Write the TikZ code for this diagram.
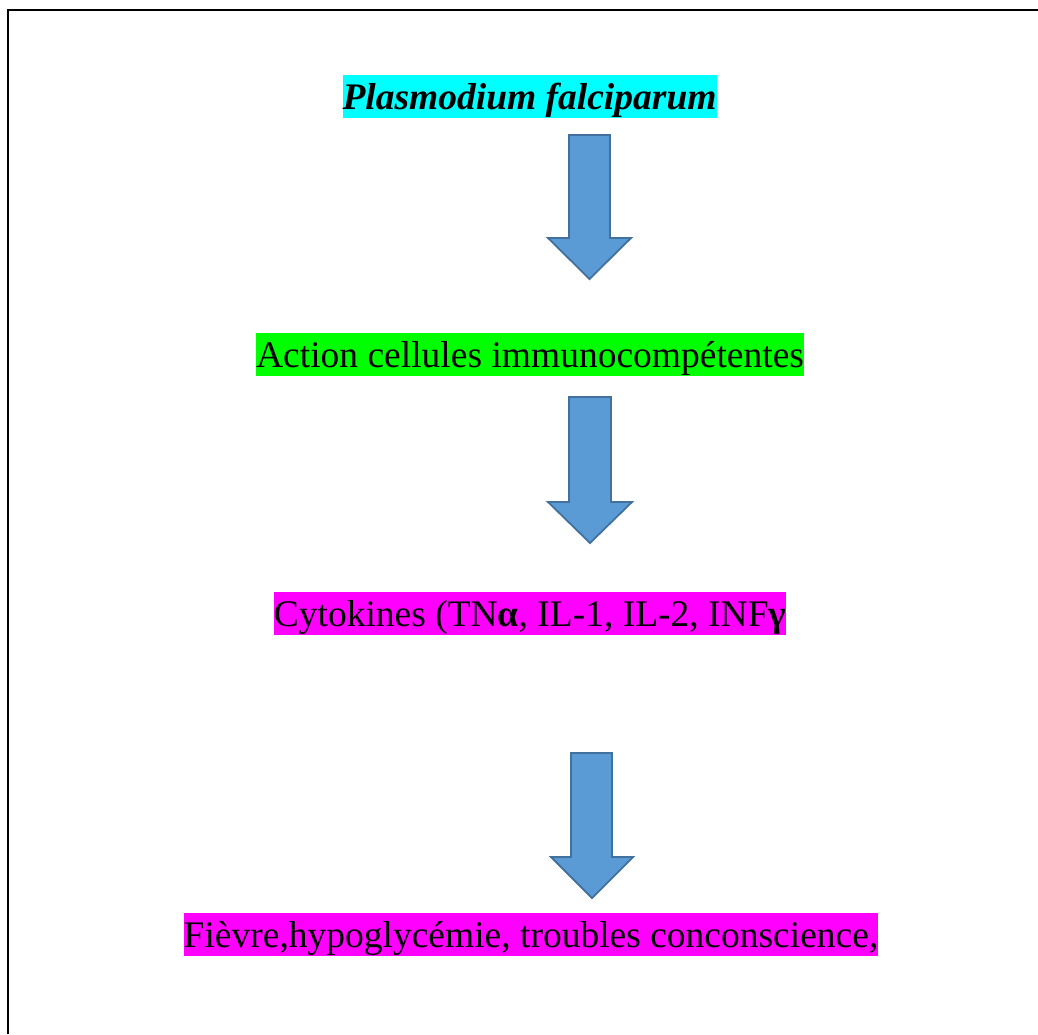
\documentclass[tikz,border=0pt]{standalone}
\usepackage{fontspec}
\setmainfont{Liberation Serif}
\definecolor{hlcyan}{RGB}{0,255,255}
\definecolor{hlgreen}{RGB}{0,255,0}
\definecolor{hlmag}{RGB}{255,0,255}
\definecolor{arrfill}{RGB}{91,155,213}
\definecolor{arrline}{RGB}{65,113,156}
\tikzset{
  hl/.style={inner xsep=0pt, inner ysep=0pt, minimum height=43pt, text height=29.2pt, text depth=3pt, font=\fontsize{37.5}{40}\selectfont},
  blockarrow/.style={fill=arrfill, draw=arrline, line width=1.8pt, line join=miter},
  frameline/.style={draw=black, line width=2pt}
}
\begin{document}
\begin{tikzpicture}[x=1pt,y=-1pt]
\useasboundingbox (0,0) rectangle (1038,1034);
\draw[frameline] (8,1034) -- (8,10) -- (1038,10);

\node[hl, fill=hlcyan] (plasmo) at (529.5,96.5) {\textbf{\textit{Plasmodium falciparum}}};
\node[hl, fill=hlgreen] (action) at (530,354) {Action cellules immunocompétentes};
\node[hl, fill=hlmag] (cyto) at (530,613) {Cytokines (TN\textbf{α}, IL-1, IL-2, INF\textbf{γ}};
\node[hl, fill=hlmag] (fievre) at (531,934.5) {Fièvre,hypoglycémie, troubles conconscience,};

% arrow 1
\draw[blockarrow] (569,135) -- (610,135) -- (610,238) -- (631,238) -- (589.5,279) -- (548,238) -- (569,238) -- cycle;
% arrow 2
\draw[blockarrow] (569,397) -- (611,397) -- (611,502) -- (632,502) -- (590,543) -- (548,502) -- (569,502) -- cycle;
% arrow 3
\draw[blockarrow] (571,753) -- (612,753) -- (612,857) -- (633,857) -- (592,898) -- (551,857) -- (571,857) -- cycle;
\end{tikzpicture}
\end{document}
